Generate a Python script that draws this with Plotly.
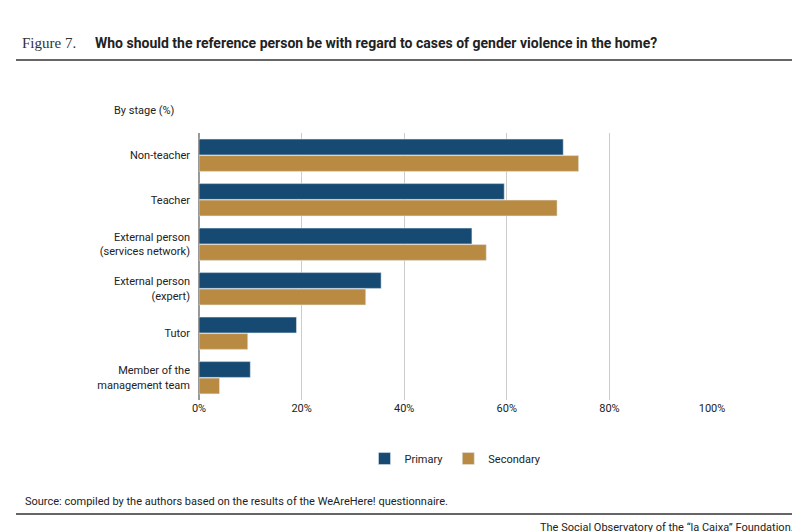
import plotly.graph_objects as go

categories = ["Non-teacher", "Teacher", "External person<br>(services network)",
              "External person<br>(expert)", "Tutor", "Member of the<br>management team"]
primary = [71, 59.5, 53.2, 35.5, 19, 10]
secondary = [74, 69.8, 56, 32.5, 9.5, 4]
tick_vals = [0, 20, 40, 60, 80, 100]
tick_text = ["0%", "20%", "40%", "60%", "80%", "100%"]

L, R, T, B = 191, 96, 125, 140

fig = go.Figure()
fig.add_trace(go.Bar(y=categories, x=primary, orientation="h", name="Primary",
                     marker_color="#174a72"))
fig.add_trace(go.Bar(y=categories, x=secondary, orientation="h", name="Secondary",
                     marker_color="#b98b42"))

fig.update_layout(
    width=800, height=532, paper_bgcolor="white", plot_bgcolor="white",
    margin=dict(l=L, r=R, t=T, b=B, autoexpand=False),
    barmode="group", bargap=0.26, bargroupgap=0.04,
    font=dict(family="Roboto", size=11, color="#222"),
    xaxis=dict(range=[0, 100], tickvals=tick_vals, ticktext=tick_text, automargin=False,
               showgrid=True, gridcolor="#cccccc", zeroline=True, zerolinecolor="#999",
               showline=False, ticks=""),
    yaxis=dict(autorange="reversed", ticks="", ticklabelstandoff=8, automargin=False),
    legend=dict(orientation="h", x=0.5, xanchor="center", y=-0.165, yanchor="top",
                font=dict(size=11)),
)


def px(xp, yp):
    return (xp - L) / (800 - L - R), (532 - B - yp) / (532 - T - B)


def note(text, xp, yp, xanchor="left", **kw):
    x, y = px(xp, yp)
    fig.add_annotation(text=text, x=x, y=y, xref="paper", yref="paper", showarrow=False,
                       xanchor=xanchor, yanchor="middle", **kw)


note("Figure 7.", 12, 35, font=dict(family="Liberation Serif", size=15, color="#333"))
note("<b>Who should the reference person be with regard to cases of gender violence in the home?</b>",
     85, 35, font=dict(family="Roboto", size=14, color="#222"))
note("By stage (%)", 104, 102, font=dict(size=11))
note("Source: compiled by the authors based on the results of the WeAreHere! questionnaire.",
     15, 493, font=dict(size=11))
note("The Social Observatory of the “la Caixa” Foundation.", 788, 519, xanchor="right",
     font=dict(size=11))

for yp in [52, 506]:
    x0, y = px(8, yp)
    x1, _ = px(792, yp)
    fig.add_shape(type="line", xref="paper", yref="paper", x0=x0, x1=x1, y0=y, y1=y,
                  line=dict(color="#333", width=1.5))

fig.write_html("out.html")
